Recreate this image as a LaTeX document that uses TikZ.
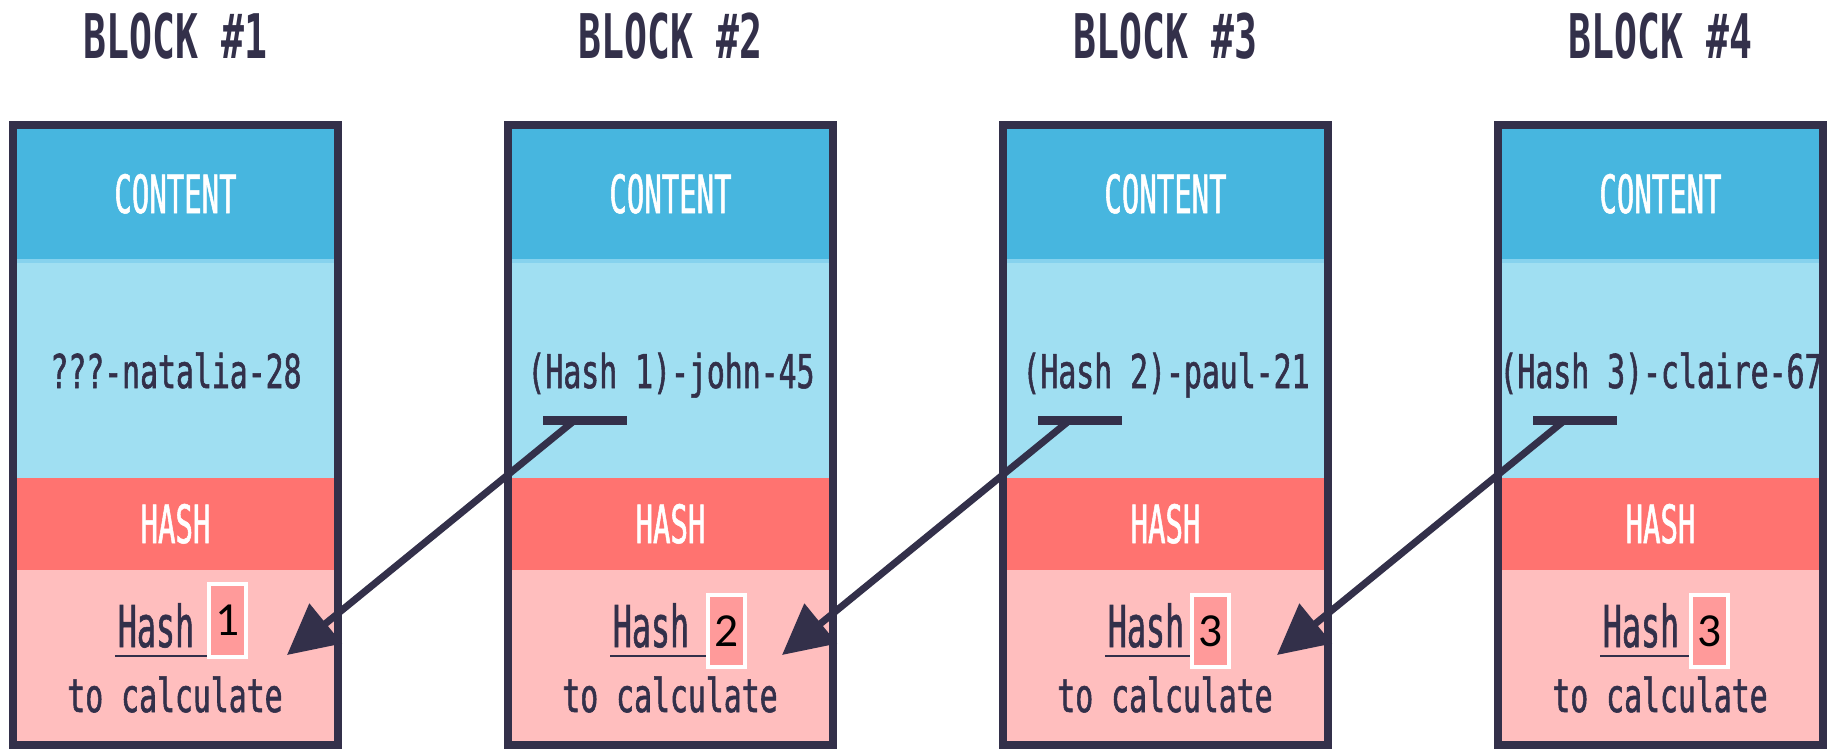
\documentclass[tikz,border=0pt]{standalone}
\usepackage{fontspec}
\usetikzlibrary{arrows.meta}

\newfontfamily\monofont[FakeStretch=0.64, FakeBold=1.2]{DejaVu Sans Mono}
\newfontfamily\headfont[FakeStretch=0.55, FakeBold=1]{DejaVu Sans Mono}
\newfontfamily\titlefont[FakeStretch=0.62]{DejaVu Sans Mono}
\newfontfamily\numfont{Carlito}

\definecolor{ink}{HTML}{33304A}
\definecolor{headblue}{HTML}{47B6DF}
\definecolor{bodyblue}{HTML}{A0DFF2}
\definecolor{lineblue}{HTML}{86D2EE}
\definecolor{headred}{HTML}{FF7370}
\definecolor{bodyred}{HTML}{FFBEBE}
\definecolor{numred}{HTML}{FF9A9A}

\begin{document}
\begin{tikzpicture}[x=0.02cm, y=-0.02cm,
	title/.style={text=ink, anchor=base, font=\titlefont\bfseries\fontsize{35}{36}\selectfont},
	head/.style={text=white, anchor=base, font=\headfont\fontsize{30}{32}\selectfont},
	txt/.style={text=ink, anchor=base, font=\monofont\fontsize{26.5}{28}\selectfont},
	word/.style={text=ink, anchor=base, font=\headfont\fontsize{32.8}{34}\selectfont},
	numbox/.style={draw=white, fill=numred, line width=0.08cm, inner sep=0pt,
		minimum width=0.74cm, minimum height=1.45cm, font=\numfont\fontsize{27}{28}\selectfont},
	bar/.style={fill=ink, inner sep=0pt, minimum width=1.68cm, minimum height=0.18cm},
	frame/.style={draw=ink, line width=0.16cm},
	link/.style={draw=ink, line width=0.14cm, -{Triangle[length=1cm, width=1cm]}}
]
	\useasboundingbox (0,0) rectangle (1835,751);

	\foreach \i/\data/\n/\bx/\by in {1/{???-natalia-28}/1/214.5/620.5,
			2/{(Hash 1)-john-45}/2/218.5/631,
			3/{(Hash 2)-paul-21}/3/207.5/631,
			4/{(Hash 3)-claire-67}/3/211/631} {
		\pgfmathsetmacro\L{13+495*(\i-1)}
		\fill[headblue] (\L,125) rectangle (\L+325,259);
		\fill[bodyblue] (\L,259) rectangle (\L+325,478);
		\fill[headred] (\L,478) rectangle (\L+325,570);
		\fill[bodyred] (\L,570) rectangle (\L+325,745);
		\draw[lineblue, line width=0.08cm] (\L,261) -- (\L+325,261);
		\draw[frame] (\L,125) rectangle (\L+325,745);

		\node[title] (title\i) at (\L+162.5,58) {BLOCK \#\i};
		\node[head] (content\i) at (\L+162.5,213) {CONTENT};
		\node[txt] (data\i) at (\L+163,388) {\data};
		\node[head] (hash\i) at (\L+162.5,543) {HASH};
		\node[word] (word\i) at (\L+143,647) {Hash};
		\draw[ink, line width=0.05cm] (\L+102,656) -- (\L+\bx-18,656);
		\node[numbox] (num\i) at (\L+\bx,\by) {\n};
		\node[txt] (calc\i) at (\L+162,712) {to calculate};

		\coordinate (tip\i) at (\L+274,655);
	}

	\node[bar] (bar2) at (508+77,420) {};
	\node[bar] (bar3) at (1003+77,420) {};
	\node[bar] (bar4) at (1498+77,420) {};

	% links back to the previous block
	\draw[link] ([xshift=-0.2cm]bar2.center) -- (tip1);
	\draw[link] ([xshift=-0.2cm]bar3.center) -- (tip2);
	\draw[link] ([xshift=-0.2cm]bar4.center) -- (tip3);
\end{tikzpicture}
\end{document}
